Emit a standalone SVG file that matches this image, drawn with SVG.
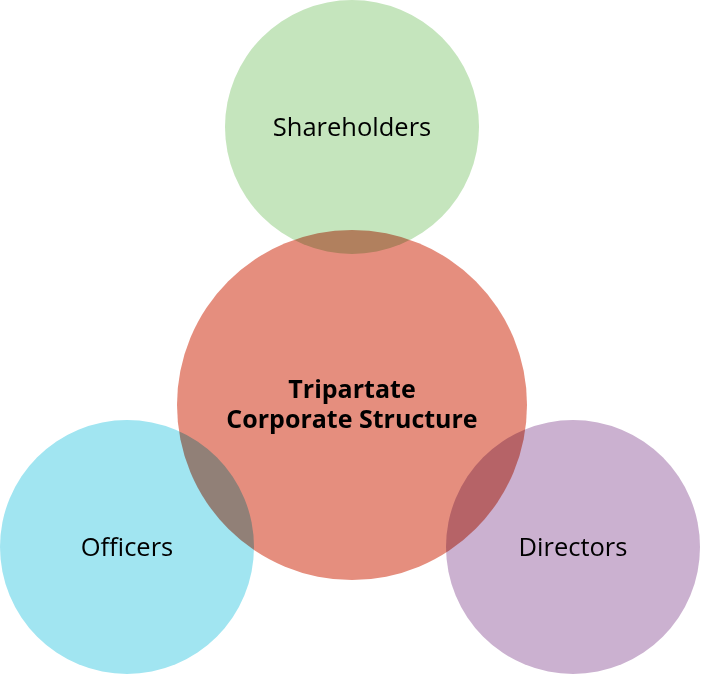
<svg xmlns="http://www.w3.org/2000/svg" width="701" height="675" viewBox="0 0 701 675">
<style>
.c{mix-blend-mode:multiply}
.t{font-family:"Open Sans","Noto Sans",sans-serif;font-size:25.5px;fill:#000;text-anchor:middle;dominant-baseline:central}
.b{font-weight:bold;font-size:25px}
</style>
<rect width="701" height="675" fill="#fff"/>
<g id="connectors"></g>
<g style="isolation:isolate">
<g id="shareholders">
<circle class="c" cx="352" cy="127" r="127" fill="#c5e5bd"/>
</g>
<g id="officers">
<circle class="c" cx="127" cy="547" r="127" fill="#a1e5f1"/>
</g>
<g id="directors">
<circle class="c" cx="573" cy="547" r="127" fill="#cbb1d0"/>
</g>
<g id="center">
<circle class="c" cx="352" cy="405" r="175" fill="#e58e7e"/>
</g>
</g>
<text class="t" x="352" y="126">Shareholders</text>
<text class="t" x="127" y="546">Officers</text>
<text class="t" x="573" y="546">Directors</text>
<text class="t b" x="352" y="388">Tripartate</text>
<text class="t b" x="352" y="418">Corporate Structure</text>
</svg>
